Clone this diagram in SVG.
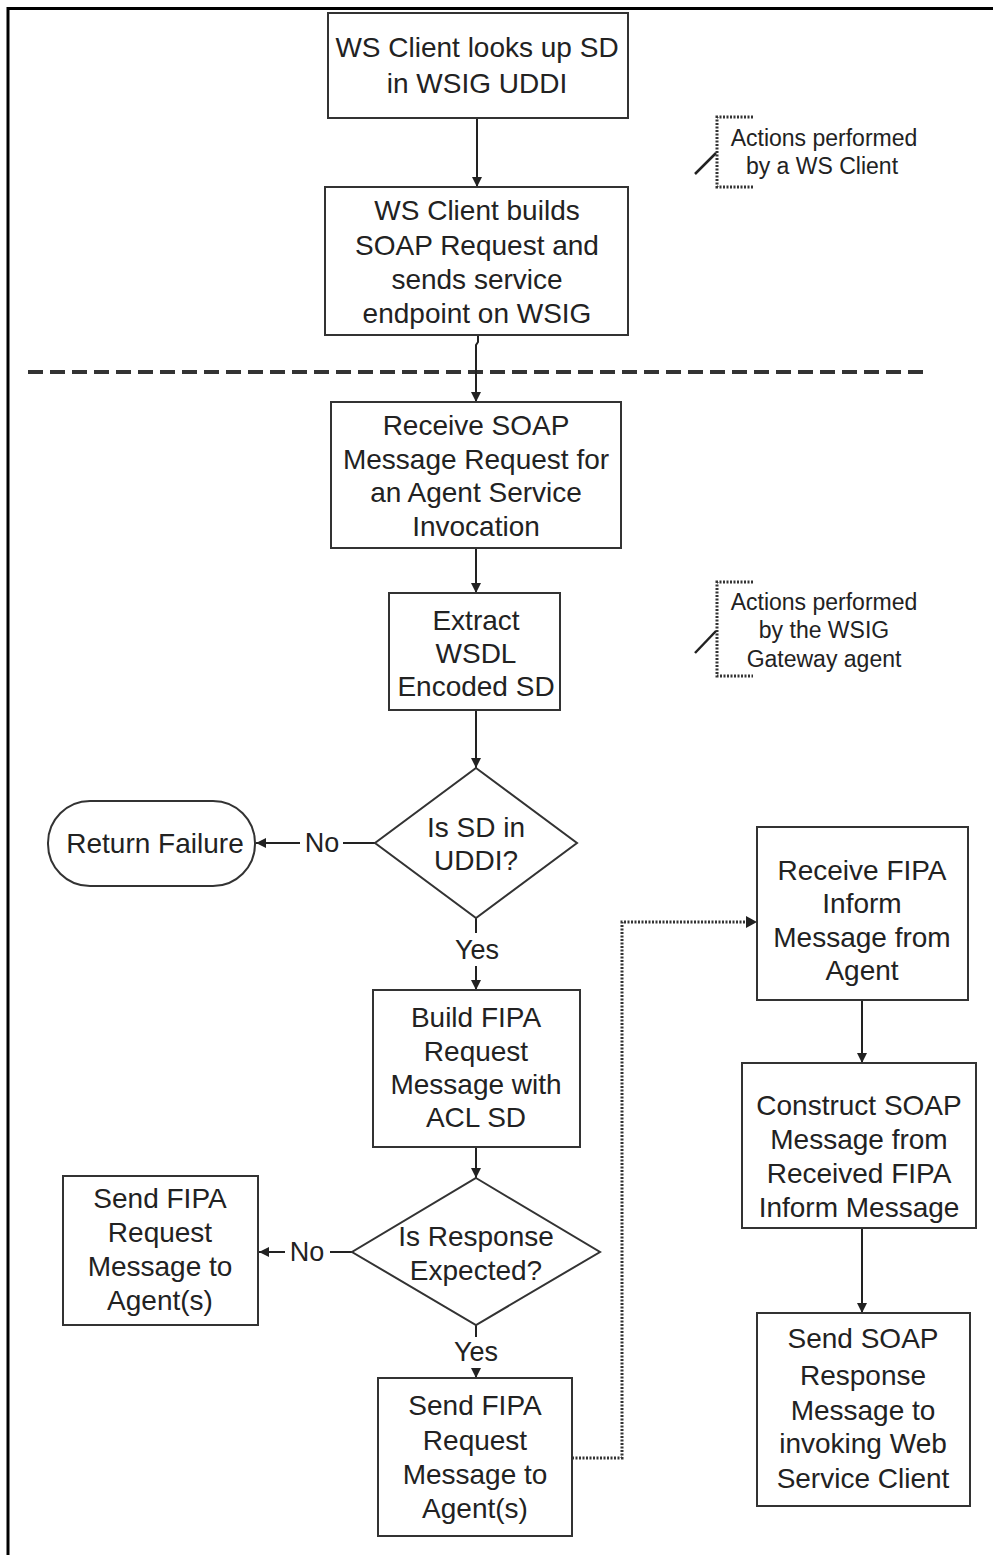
<svg xmlns="http://www.w3.org/2000/svg" width="993" height="1555" viewBox="0 0 993 1555">
  <defs>
    <marker id="arrow" viewBox="0 0 10 10" refX="10" refY="5" markerWidth="10" markerHeight="10" markerUnits="userSpaceOnUse" orient="auto">
      <path d="M0,0 L10,5 L0,10 z" fill="#222"/>
    </marker>
    <style>
      .box { fill: #fff; stroke: #333; stroke-width: 2; }
      .t { font-family: "Liberation Sans", Arial, sans-serif; font-size: 28px; fill: #222; text-anchor: middle; dominant-baseline: central; }
      .note { font-family: "Liberation Sans", Arial, sans-serif; font-size: 23px; fill: #222; text-anchor: middle; dominant-baseline: central; }
      .lab { font-family: "Liberation Sans", Arial, sans-serif; font-size: 27px; fill: #222; text-anchor: middle; dominant-baseline: central; }
      .edge { fill: none; stroke: #222; stroke-width: 2; }
      .dotted { fill: none; stroke: #333; stroke-width: 3; stroke-dasharray: 2 1.5; }
    </style>
  </defs>

  <rect width="993" height="1555" fill="#fff"/>

  <!-- page frame -->
  <path d="M8,1555 L8,8.5 L993,8.5" fill="none" stroke="#000" stroke-width="3"/>

  <!-- boundary between WS client and gateway agent -->
  <line x1="28" y1="372" x2="925" y2="372" stroke="#333" stroke-width="4" stroke-dasharray="15 7"/>

  <!-- annotations -->
  <g id="note-client">
    <path class="dotted" d="M753,117 L717,117 L717,187 L753,187"/>
    <line x1="695" y1="174" x2="716" y2="153" stroke="#222" stroke-width="2.5"/>
    <text class="note" x="824" y="138">Actions performed</text>
    <text class="note" x="822" y="166">by a WS Client</text>
  </g>
  <g id="note-gateway">
    <path class="dotted" d="M753,582 L717,582 L717,676 L753,676"/>
    <line x1="695" y1="653" x2="716" y2="631" stroke="#222" stroke-width="2.5"/>
    <text class="note" x="824" y="602">Actions performed</text>
    <text class="note" x="824" y="630">by the WSIG</text>
    <text class="note" x="824" y="659">Gateway agent</text>
  </g>

  <!-- connectors -->
  <g id="connectors">
    <line class="edge" x1="477" y1="118" x2="477" y2="187" marker-end="url(#arrow)"/>
    <path class="edge" d="M478,335 L478,342 L476,345 L476,402" marker-end="url(#arrow)"/>
    <line class="edge" x1="476" y1="548" x2="476" y2="593" marker-end="url(#arrow)"/>
    <line class="edge" x1="476" y1="710" x2="476" y2="768" marker-end="url(#arrow)"/>
    <!-- Is SD in UDDI? -->
    <line class="edge" x1="375" y1="843" x2="343" y2="843"/>
    <text class="lab" x="322" y="843">No</text>
    <line class="edge" x1="300" y1="843" x2="256" y2="843" marker-end="url(#arrow)"/>
    <line class="edge" x1="476" y1="918" x2="476" y2="933"/>
    <text class="lab" x="477" y="950">Yes</text>
    <line class="edge" x1="476" y1="966" x2="476" y2="990" marker-end="url(#arrow)"/>
    <line class="edge" x1="476" y1="1147" x2="476" y2="1178" marker-end="url(#arrow)"/>
    <!-- Is Response Expected? -->
    <line class="edge" x1="352" y1="1252" x2="330" y2="1252"/>
    <text class="lab" x="307" y="1252">No</text>
    <line class="edge" x1="285" y1="1252" x2="259" y2="1252" marker-end="url(#arrow)"/>
    <line class="edge" x1="476" y1="1325" x2="476" y2="1337"/>
    <text class="lab" x="476" y="1352">Yes</text>
    <line class="edge" x1="476" y1="1368" x2="476" y2="1378" marker-end="url(#arrow)"/>
    <!-- response path -->
    <path class="dotted" d="M572,1458 L622,1458 L622,922 L746,922"/>
    <path d="M746,916 L757,922 L746,928 z" fill="#222"/>
    <line class="edge" x1="862" y1="1000" x2="862" y2="1063" marker-end="url(#arrow)"/>
    <line class="edge" x1="862" y1="1228" x2="862" y2="1313" marker-end="url(#arrow)"/>
  </g>

  <!-- WS client steps -->
  <g id="lookup-sd">
    <rect class="box" x="328" y="13" width="300" height="105"/>
    <text class="t" x="477" y="47">WS Client looks up SD</text>
    <text class="t" x="477" y="83">in WSIG UDDI</text>
  </g>
  <g id="build-soap">
    <rect class="box" x="325" y="187" width="303" height="148"/>
    <text class="t" x="477" y="210">WS Client builds</text>
    <text class="t" x="477" y="245">SOAP Request and</text>
    <text class="t" x="477" y="279">sends service</text>
    <text class="t" x="477" y="313">endpoint on WSIG</text>
  </g>

  <!-- gateway agent steps -->
  <g id="receive-soap">
    <rect class="box" x="331" y="402" width="290" height="146"/>
    <text class="t" x="476" y="425">Receive SOAP</text>
    <text class="t" x="476" y="459">Message Request for</text>
    <text class="t" x="476" y="492">an Agent Service</text>
    <text class="t" x="476" y="526">Invocation</text>
  </g>
  <g id="extract-wsdl">
    <rect class="box" x="389" y="593" width="171" height="117"/>
    <text class="t" x="476" y="620">Extract</text>
    <text class="t" x="476" y="653">WSDL</text>
    <text class="t" x="476" y="686">Encoded SD</text>
  </g>
  <g id="sd-in-uddi">
    <polygon class="box" points="476,768 577,843 476,918 375,843"/>
    <text class="t" x="476" y="827">Is SD in</text>
    <text class="t" x="476" y="860">UDDI?</text>
  </g>
  <g id="return-failure">
    <rect class="box" x="48" y="801" width="207" height="85" rx="42" ry="42"/>
    <text class="t" x="155" y="843">Return Failure</text>
  </g>
  <g id="build-fipa">
    <rect class="box" x="373" y="990" width="207" height="157"/>
    <text class="t" x="476" y="1017">Build FIPA</text>
    <text class="t" x="476" y="1051">Request</text>
    <text class="t" x="476" y="1084">Message with</text>
    <text class="t" x="476" y="1117">ACL SD</text>
  </g>
  <g id="response-expected">
    <polygon class="box" points="476,1178 600,1252 476,1325 352,1252"/>
    <text class="t" x="476" y="1236">Is Response</text>
    <text class="t" x="476" y="1270">Expected?</text>
  </g>
  <g id="send-fipa-noreply">
    <rect class="box" x="63" y="1176" width="195" height="149"/>
    <text class="t" x="160" y="1198">Send FIPA</text>
    <text class="t" x="160" y="1232">Request</text>
    <text class="t" x="160" y="1266">Message to</text>
    <text class="t" x="160" y="1300">Agent(s)</text>
  </g>
  <g id="send-fipa">
    <rect class="box" x="378" y="1378" width="194" height="158"/>
    <text class="t" x="475" y="1405">Send FIPA</text>
    <text class="t" x="475" y="1440">Request</text>
    <text class="t" x="475" y="1474">Message to</text>
    <text class="t" x="475" y="1508">Agent(s)</text>
  </g>
  <g id="receive-inform">
    <rect class="box" x="757" y="827" width="211" height="173"/>
    <text class="t" x="862" y="870">Receive FIPA</text>
    <text class="t" x="862" y="903">Inform</text>
    <text class="t" x="862" y="937">Message from</text>
    <text class="t" x="862" y="970">Agent</text>
  </g>
  <g id="construct-soap">
    <rect class="box" x="742" y="1063" width="234" height="165"/>
    <text class="t" x="859" y="1105">Construct SOAP</text>
    <text class="t" x="859" y="1139">Message from</text>
    <text class="t" x="859" y="1173">Received FIPA</text>
    <text class="t" x="859" y="1207">Inform Message</text>
  </g>
  <g id="send-soap-response">
    <rect class="box" x="757" y="1313" width="213" height="193"/>
    <text class="t" x="863" y="1338">Send SOAP</text>
    <text class="t" x="863" y="1375">Response</text>
    <text class="t" x="863" y="1410">Message to</text>
    <text class="t" x="863" y="1443">invoking Web</text>
    <text class="t" x="863" y="1478">Service Client</text>
  </g>
</svg>
